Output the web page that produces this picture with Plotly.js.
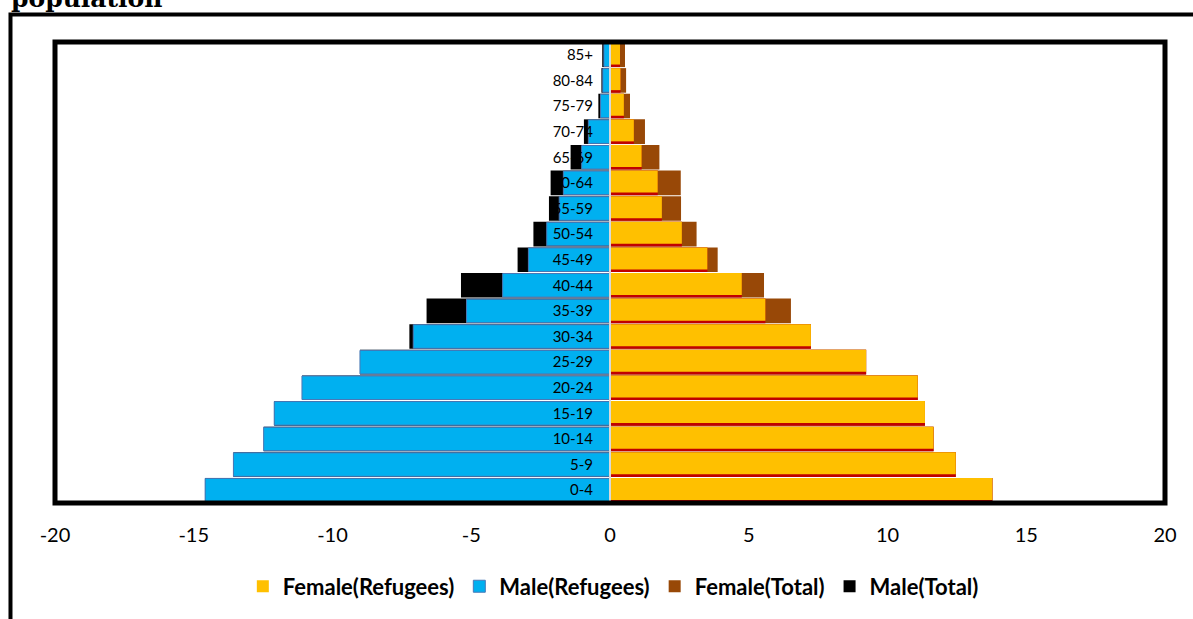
<!DOCTYPE html>
<html>
<head>
<meta charset="utf-8">
<script src="https://cdn.plot.ly/plotly-3.0.1.min.js"></script>
<style>
  html, body { margin: 0; padding: 0; background: #fff; overflow: hidden; }
  #chart { width: 1193px; height: 619px; }
</style>
</head>
<body>
<div id="chart"></div>
<script>
const ages = ['0-4', '5-9', '10-14', '15-19', '20-24', '25-29', '30-34', '35-39', '40-44',
    '45-49', '50-54', '55-59', '60-64', '65-69', '70-74', '75-79', '80-84', '85+'];

// percent of population, males on the negative side
const femaleRefugees = [13.78, 12.46, 11.66, 11.35, 11.09, 9.23, 7.24, 5.60, 4.75,
    3.51, 2.59, 1.87, 1.72, 1.14, 0.86, 0.50, 0.38, 0.36];
const maleRefugees = [-14.59, -13.57, -12.48, -12.10, -11.10, -9.01, -7.09, -5.17, -3.87,
    -2.94, -2.28, -1.83, -1.68, -1.02, -0.78, -0.34, -0.26, -0.22];
const femaleTotal = [13.78, 12.46, 11.66, 11.35, 11.09, 9.23, 7.24, 6.52, 5.55,
    3.88, 3.12, 2.56, 2.55, 1.78, 1.26, 0.72, 0.58, 0.54];
const maleTotal = [-14.59, -13.57, -12.48, -12.10, -11.10, -9.01, -7.23, -6.61, -5.37,
    -3.33, -2.76, -2.20, -2.14, -1.42, -0.94, -0.42, -0.31, -0.28];

const xTicks = [-20, -15, -10, -5, 0, 5, 10, 15, 20];

const font = 'Lato, "Open Sans", sans-serif';

function barTrace(name, values, color, extra) {
    return Object.assign({
        type: 'bar',
        orientation: 'h',
        name: name,
        x: values,
        y: ages,
        offset: -0.48,
        width: 0.96,
        marker: { color: color, line: { width: 0 } },
        hoverinfo: 'x+y+name',
    }, extra || {});
}

const data = [
    barTrace('Female(Total)', femaleTotal, '#984807', { legendrank: 3 }),
    barTrace('Male(Total)', maleTotal, '#000000', { legendrank: 4 }),
    // thin red edge under the yellow bars
    barTrace('edge', femaleRefugees, '#c00000', { showlegend: false, hoverinfo: 'skip' }),
    barTrace('Female(Refugees)', femaleRefugees, '#ffc000', {
        legendrank: 1, offset: -0.38, width: 0.86,
    }),
    barTrace('Male(Refugees)', maleRefugees, '#00b0f0', {
        legendrank: 2, offset: -0.46, width: 0.92,
        marker: { color: '#00b0f0', line: { color: '#4a79b8', width: 1 } },
    }),
];

const layout = {
    width: 1193,
    height: 619,
    margin: { l: 55, r: 28, t: 42, b: 114 },
    paper_bgcolor: '#ffffff',
    plot_bgcolor: '#ffffff',
    barmode: 'overlay',
    showlegend: true,
    font: { family: font, color: '#000000' },
    xaxis: {
        range: [-20, 20],
        tickvals: xTicks,
        ticktext: xTicks.map(String),
        showgrid: false,
        zeroline: false,
        showline: false,
        ticks: 'outside',
        ticklen: 14,
        tickcolor: 'rgba(0,0,0,0)',
        tickfont: { family: font, size: 20, color: '#000000' },
        fixedrange: true,
    },
    yaxis: {
        type: 'category',
        range: [-0.5, 17.5],
        anchor: 'free',
        position: 0.5,
        showgrid: false,
        zeroline: false,
        showline: false,
        ticks: 'outside',
        ticklen: 14,
        tickcolor: 'rgba(0,0,0,0)',
        tickfont: { family: font, size: 15, color: '#000000' },
        fixedrange: true,
    },
    legend: {
        orientation: 'h',
        x: 0.503,
        xanchor: 'center',
        y: -0.181,
        yanchor: 'middle',
        font: { family: font, size: 22, color: '#000000', weight: 'bold' },
        traceorder: 'normal',
        itemclick: false,
    },
    shapes: [
        // light divider at zero
        { type: 'line', xref: 'x', yref: 'paper', x0: 0, x1: 0, y0: 0, y1: 1,
          line: { color: '#d9d9d9', width: 2 } },
        // plot frame
        { type: 'rect', xref: 'paper', yref: 'paper', x0: 0, x1: 1, y0: 0, y1: 1,
          line: { color: '#000000', width: 5 } },
        // outer figure frame (left and top edges)
        { type: 'path', xref: 'paper', yref: 'paper',
          path: 'M -0.0401 -0.26 L -0.0401 1.0594 L 1.04 1.0594',
          line: { color: '#000000', width: 4 } },
    ],
    annotations: [
        { text: '<b>population</b>', xref: 'paper', yref: 'paper',
          x: -0.041, y: 1.0594, xanchor: 'left', yanchor: 'bottom', showarrow: false,
          font: { family: '"DejaVu Serif", "Liberation Serif", serif', size: 25, color: '#000000' } },
    ],
};

Plotly.newPlot('chart', data, layout, { displayModeBar: false, staticPlot: true });
</script>
</body>
</html>
